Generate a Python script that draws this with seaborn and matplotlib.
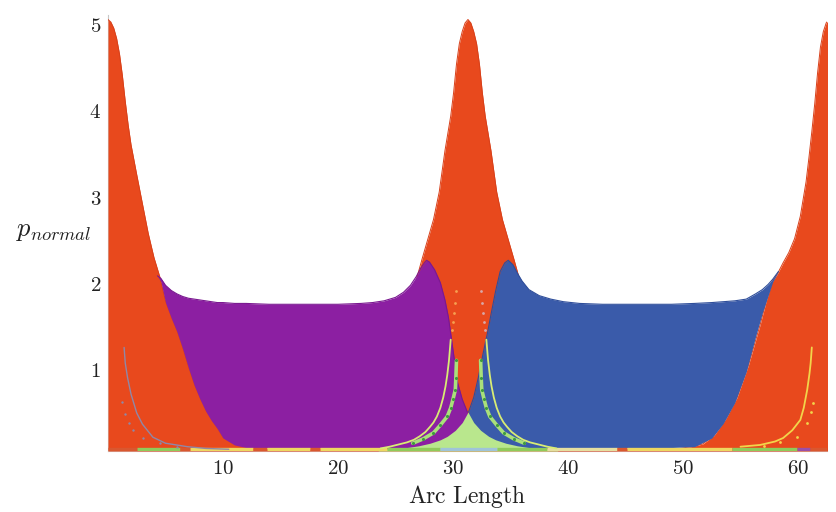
import numpy as np
import pandas as pd
import matplotlib
matplotlib.use("Agg")
import matplotlib.pyplot as plt
import matplotlib.transforms as mtransforms
import seaborn as sns

# ---------------- data ----------------
# red curve: three peaks (s = 0, 31.3, ~62.7)
red_s = [0, 0.25, 0.5, 0.75, 1, 1.25, 1.5, 1.75, 2, 2.5, 3, 3.5, 4, 4.5, 5, 5.5, 6, 6.5, 7, 7.5, 8, 8.5, 9, 9.5, 10, 11, 12, 13, 14, 15.65,
         17.3, 18.3, 19.3, 20.3, 21.3, 22.3, 23.3, 24.3, 25.3, 26.3, 26.8, 27.3, 27.8, 28.3, 28.8, 29.3, 29.55, 29.8, 30.05, 30.3, 30.55, 30.8, 31.05, 31.3,
         31.55, 31.8, 32.05, 32.3, 32.55, 32.8, 33.05, 33.3, 33.8, 34.3, 34.8, 35.3, 35.8, 36.3, 37.3, 38.3, 39.3, 40.3, 41.3, 42.3, 43.3, 44.3, 45.3, 46.95,
         48.7, 49.7, 50.7, 51.7, 52.7, 53.7, 54.7, 55.7, 56.7, 57.2, 57.7, 58.2, 58.7, 59.2, 59.7, 60.2, 60.7, 60.95, 61.2, 61.45, 61.7, 61.95, 62.2, 62.45, 62.7]
red_p = [5.00, 4.97, 4.90, 4.78, 4.60, 4.35, 4.05, 3.78, 3.55, 3.20, 2.86, 2.52, 2.24, 2.02, 1.74, 1.56, 1.40, 1.20, 0.98, 0.78, 0.62, 0.48, 0.37, 0.27, 0.16, 0.08, 0.05, 0.03, 0.02, 0.01,
         0.02, 0.03, 0.05, 0.08, 0.16, 0.37, 0.62, 0.98, 1.40, 1.75, 1.98, 2.22, 2.45, 2.68, 3.00, 3.48, 3.68, 3.88, 4.15, 4.48, 4.72, 4.86, 4.96, 5.00,
         4.96, 4.86, 4.72, 4.48, 4.15, 3.88, 3.68, 3.48, 3.00, 2.68, 2.45, 2.22, 1.98, 1.75, 1.40, 0.98, 0.62, 0.37, 0.16, 0.08, 0.05, 0.03, 0.02, 0.01,
         0.02, 0.03, 0.05, 0.08, 0.18, 0.37, 0.62, 1.00, 1.46, 1.72, 1.95, 2.05, 2.18, 2.30, 2.46, 2.72, 3.12, 3.40, 3.70, 4.02, 4.38, 4.68, 4.86, 4.96, 5.00]

# purple band (left of the centre peak)
purple_s = [4.3, 4.6, 5.0, 5.5, 6.0, 6.5, 7.0, 7.5, 8.0, 8.5, 9.0, 9.5, 10, 11, 12, 14, 16, 18, 20, 22, 23, 24, 25, 25.7, 26.3, 26.8, 27.2, 27.5, 27.7, 27.95, 28.4, 28.9, 29.3, 29.6, 30.0, 30.4, 30.8, 31.25]
purple_top = [2.03, 2.00, 1.92, 1.86, 1.82, 1.79, 1.77, 1.76, 1.75, 1.74, 1.73, 1.72, 1.72, 1.71, 1.71, 1.70, 1.70, 1.70, 1.70, 1.71, 1.72, 1.74, 1.78, 1.84, 1.92, 2.02, 2.12, 2.18, 2.21, 2.19, 2.10, 1.95, 1.75, 1.55, 1.17, 0.79, 0.60, 0.45]
purple_low = [2.03, 1.96, 1.72, 1.54, 1.38, 1.18, 0.96, 0.76, 0.60, 0.46, 0.35, 0.26, 0.15, 0.07, 0.04, 0.04, 0.04, 0.04, 0.04, 0.04, 0.04, 0.04, 0.04, 0.04, 0.04, 0.04, 0.04, 0.04, 0.04, 0.04, 0.04, 0.04, 0.04, 0.04, 0.04, 0.04, 0.04, 0.04]

# blue band (right of the centre peak)
blue_s = [31.35, 31.8, 32.2, 32.6, 33.0, 33.3, 33.7, 34.1, 34.5, 34.8, 35.2, 35.6, 36.0, 36.6, 37.5, 38.5, 39.6, 41, 43, 45, 47, 49, 51, 52.5, 53.5, 54.5, 55.5, 56.3, 56.9, 57.4, 57.8, 58.3]
blue_top = [0.45, 0.62, 0.85, 1.12, 1.37, 1.58, 1.85, 2.08, 2.18, 2.21, 2.16, 2.06, 1.97, 1.87, 1.80, 1.76, 1.73, 1.71, 1.70, 1.70, 1.70, 1.70, 1.71, 1.72, 1.73, 1.74, 1.76, 1.82, 1.87, 1.93, 1.99, 2.08]
blue_low = [0.04, 0.04, 0.04, 0.04, 0.04, 0.04, 0.04, 0.04, 0.04, 0.04, 0.04, 0.04, 0.04, 0.04, 0.04, 0.04, 0.04, 0.04, 0.04, 0.04, 0.04, 0.04, 0.05, 0.15, 0.32, 0.56, 0.92, 1.32, 1.60, 1.80, 1.96, 2.08]

# green bump under the centre peak
green_s = [23.5, 25, 26, 27, 28, 28.9, 29.5, 30.2, 30.8, 31.3, 31.8, 32.4, 33.1, 33.7, 34.6, 35.6, 36.6, 37.6, 39.1]
green_p = [0.02, 0.03, 0.04, 0.06, 0.09, 0.13, 0.17, 0.24, 0.33, 0.45, 0.33, 0.24, 0.17, 0.13, 0.09, 0.06, 0.04, 0.03, 0.02]

# dotted point curves
curveA_left_s = [23.7, 24.5, 25.1, 26.0, 26.6, 27.1, 27.6, 28.0, 28.3, 28.6, 28.9, 29.15, 29.35, 29.5, 29.65, 29.8]
curveA_left_p = [0.03, 0.05, 0.07, 0.10, 0.13, 0.17, 0.22, 0.28, 0.33, 0.40, 0.50, 0.62, 0.75, 0.88, 1.05, 1.29]
curveB_left_s = [26.5, 27.4, 28.3, 28.9, 29.5, 29.8, 30.0, 30.2, 30.25, 30.3]
curveB_left_p = [0.09, 0.14, 0.21, 0.30, 0.40, 0.50, 0.60, 0.71, 0.85, 1.05]
curveA_right_s = [39.0, 38.2, 37.6, 36.7, 36.1, 35.6, 35.1, 34.7, 34.4, 34.1, 33.8, 33.55, 33.35, 33.2, 33.05, 32.9]
curveA_right_p = [0.03, 0.05, 0.07, 0.10, 0.13, 0.17, 0.22, 0.28, 0.33, 0.40, 0.50, 0.62, 0.75, 0.88, 1.05, 1.29]
curveB_right_s = [36.2, 35.3, 34.4, 33.8, 33.2, 32.9, 32.7, 32.5, 32.45, 32.4]
curveB_right_p = [0.09, 0.14, 0.21, 0.30, 0.40, 0.50, 0.60, 0.71, 0.85, 1.05]
orange_left_s = [29.9, 30.0, 30.1, 30.2, 30.3]
orange_left_p = [1.40, 1.50, 1.60, 1.72, 1.85]
orange_right_s = [32.8, 32.7, 32.6, 32.5, 32.4]
orange_right_p = [1.40, 1.50, 1.60, 1.72, 1.85]
grey1_s = [1.4, 1.5, 1.7, 2.0, 2.5, 3.0, 3.9, 5.0, 6.9, 8.5, 10.5]
grey1_p = [1.20, 1.02, 0.85, 0.66, 0.44, 0.31, 0.16, 0.09, 0.05, 0.03, 0.02]
grey2_s = [1.2, 1.5, 1.8, 2.2, 3.0, 4.5, 6.0]
grey2_p = [0.57, 0.43, 0.33, 0.24, 0.15, 0.09, 0.05]
yellow1_s = [55.0, 56.7, 58.0, 58.7, 59.5, 60.2, 60.5, 60.8, 61.0, 61.1, 61.2]
yellow1_p = [0.05, 0.07, 0.11, 0.15, 0.24, 0.36, 0.50, 0.71, 0.90, 1.02, 1.20]
yellow2_s = [57.0, 58.4, 59.9, 60.8, 61.1, 61.3]
yellow2_p = [0.06, 0.10, 0.16, 0.32, 0.45, 0.56]

# coloured strip of points lying on the axis (segment start, end, colour)
strip_start = [0.0, 2.5, 6.3, 7.1, 12.6, 13.8, 17.6, 18.4, 24.3, 28.9, 33.8, 38.2, 44.3, 45.1, 54.3, 59.9, 61.0]
strip_end = [2.5, 6.3, 7.1, 12.6, 13.8, 17.6, 18.4, 24.3, 28.9, 33.8, 38.2, 44.3, 45.1, 54.3, 59.9, 61.0, 62.52]
strip_color = ["#D9572F", "#8FCB5A", "#D9572F", "#EED760", "#D9572F", "#EED760", "#D9572F", "#EED760",
               "#8FCB5A", "#9FC4D8", "#8FCB5A", "#E6DFA0", "#D9572F", "#EED760", "#8FCB5A", "#9A4FA8", "#D9572F"]

x_ticks = [10, 20, 30, 40, 50, 60]
y_ticks = [1, 2, 3, 4, 5]

# ---------------- style ----------------
sns.set_theme(style="white")
plt.rcParams["mathtext.fontset"] = "cm"
plt.rcParams["font.family"] = ["DejaVu Serif"]

RED = "#E8491D"
PURPLE = "#8C1FA2"
BLUE = "#3A5BAA"
GREEN = "#B9E78D"
YELLOW = "#F2D54A"
GREY = "#8E88A8"

fig = plt.figure(figsize=(8.36, 5.12), dpi=100)
ax = fig.add_axes([108 / 836, 1 - 451 / 512, 719 / 836, 436 / 512])

red = pd.DataFrame({"s": red_s, "p": red_p})
ax.fill_between(red["s"], 0, red["p"], color=RED, lw=0, zorder=1)
sns.lineplot(data=red, x="s", y="p", ax=ax, color="#D8401A", lw=0.7, zorder=1.1, sort=False)

pur = pd.DataFrame({"s": purple_s, "top": purple_top, "low": purple_low})
ax.fill_between(pur["s"], pur["low"], pur["top"], color=PURPLE, lw=0, zorder=2)
sns.lineplot(data=pur, x="s", y="top", ax=ax, color="#7A1890", lw=0.8, zorder=2.1, sort=False)

blu = pd.DataFrame({"s": blue_s, "top": blue_top, "low": blue_low})
ax.fill_between(blu["s"], blu["low"], blu["top"], color=BLUE, lw=0, zorder=2)
sns.lineplot(data=blu, x="s", y="top", ax=ax, color="#2F4E9A", lw=0.8, zorder=2.1, sort=False)

gre = pd.DataFrame({"s": green_s, "p": green_p})
ax.fill_between(gre["s"], 0, gre["p"], color=GREEN, lw=0, zorder=3)

def dots(xs, ys, color, lw, ms, mcolor, z=4):
    d = pd.DataFrame({"s": xs, "p": ys})
    if lw > 0:
        sns.lineplot(data=d, x="s", y="p", ax=ax, color=color, lw=lw, zorder=z, sort=False)
    if ms:
        sns.scatterplot(data=d, x="s", y="p", ax=ax, color=mcolor, s=ms, linewidth=0, zorder=z + 0.1)

dots(curveA_left_s, curveA_left_p, "#D8EC74", 1.3, 0, None)
dots(curveB_left_s, curveB_left_p, "#A9E07A", 2.6, 5, "#3E9A3E")
dots(curveA_right_s, curveA_right_p, "#D8EC74", 1.3, 0, None)
dots(curveB_right_s, curveB_right_p, "#A9E07A", 2.6, 5, "#3E9A3E")
dots(orange_left_s, orange_left_p, None, 0, 4, "#F5A050")
dots(orange_right_s, orange_right_p, None, 0, 4, "#D8A8A8")
dots(grey1_s, grey1_p, GREY, 1.0, 0, None)
dots(grey2_s, grey2_p, None, 0, 3, GREY)
dots(yellow1_s, yellow1_p, YELLOW, 1.3, 0, None)
dots(yellow2_s, yellow2_p, None, 0, 4, YELLOW)

strip = pd.DataFrame({"a": strip_start, "b": strip_end, "c": strip_color})
for _, row in strip.iterrows():
    seg = pd.DataFrame({"s": [row["a"], row["b"]], "p": [0.018, 0.018]})
    sns.lineplot(data=seg, x="s", y="p", ax=ax, color=row["c"], lw=2.4, zorder=3.5,
                 solid_capstyle="butt")

ax.set_xlim(0, 62.52)
ax.set_ylim(0, 436 / 86.3)
ax.set_xticks(x_ticks)
ax.set_xticklabels([f"${v}$" for v in x_ticks], fontsize=15)
ax.set_yticks(y_ticks)
ax.set_yticklabels([f"${v}$" for v in y_ticks], fontsize=15)
ax.tick_params(length=0, pad=5, colors="#222222")
ax.tick_params(axis="x", pad=6)

off = mtransforms.ScaledTranslation(0, -5 / 100, fig.dpi_scale_trans)
for lab in ax.get_yticklabels():
    lab.set_transform(lab.get_transform() + off)

for side in ["top", "right"]:
    ax.spines[side].set_visible(False)
for side in ["left", "bottom"]:
    ax.spines[side].set_color("#C8C8C8")
    ax.spines[side].set_linewidth(0.8)
    ax.spines[side].set_zorder(0.5)

ax.set_xlabel(r"$\mathrm{Arc\ Length}$", fontsize=17, color="#222222", labelpad=3)
ax.set_ylabel(r"$p_{normal}$", fontsize=19, color="#222222", rotation=0, ha="center", va="center")
ax.yaxis.set_label_coords(-0.075, 0.505)

fig.savefig("out.png", dpi=100)
